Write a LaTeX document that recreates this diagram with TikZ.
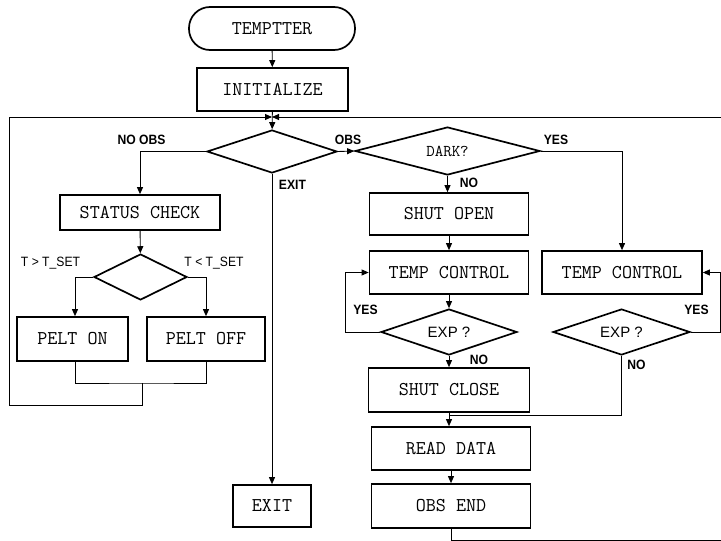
\documentclass[tikz,border=0pt]{standalone}
\usepackage{fontspec}
\newfontfamily\lblfont[FakeStretch=0.9]{Liberation Sans}
\newfontfamily\qfont{Liberation Sans}
\usetikzlibrary{shapes.geometric,arrows.meta}
\begin{document}
\begin{tikzpicture}[x=1pt,y=-1pt,
  line/.style={line width=0.9pt},
  arr/.style={line, -{Triangle[length=7pt,width=6pt]}},
  box/.style={draw, line width=1.7pt, rectangle, inner sep=0pt,
    font=\fontsize{19.5}{20}\selectfont\ttfamily},
  term/.style={box, rounded corners=21pt},
  dec/.style={draw, line width=1.7pt, diamond, aspect=3, inner sep=0pt},
  lbl/.style={font=\fontsize{13.5}{14}\selectfont\lblfont\bfseries, inner sep=0pt},
  lblr/.style={font=\fontsize{13.5}{14}\selectfont\lblfont, inner sep=0pt}]
\useasboundingbox (0,0) rectangle (721,541);

% left branch and main column
\node[term, minimum width=166, minimum height=43] (start) at (272,28.5) {TEMPTTER};
\node[box, minimum width=151, minimum height=43] (init) at (272.5,89.5) {INITIALIZE};
\node[dec, minimum width=130, minimum height=43] (d1) at (272,151.5) {};
\node[box, minimum width=160, minimum height=35] (status) at (140,212.5) {STATUS CHECK};
\node[dec, minimum width=93, minimum height=46] (dt) at (140.5,277) {};
\node[box, minimum width=111, minimum height=44] (pon) at (72.5,339) {PELT ON};
\node[box, minimum width=118, minimum height=44] (poff) at (206,339) {PELT OFF};
\node[box, minimum width=78, minimum height=42] (exitb) at (272,506) {EXIT};

% observation branch
\node[dec, minimum width=185, minimum height=48,
  font=\fontsize{16.5}{17}\selectfont\ttfamily] (dark) at (447.5,151) {DARK?};
\node[box, minimum width=159, minimum height=42] (sopen) at (449,214) {SHUT OPEN};
\node[box, minimum width=159, minimum height=43] (tcl) at (449,272.5) {TEMP CONTROL};
\node[dec, minimum width=136, minimum height=46,
  font=\fontsize{15}{16}\selectfont\qfont] (expl) at (449,332) {EXP ?};
\node[box, minimum width=161, minimum height=44] (sclose) at (449,390) {SHUT CLOSE};
\node[box, minimum width=159, minimum height=43] (rdata) at (451,448.5) {READ DATA};
\node[box, minimum width=159, minimum height=44] (oend) at (451,506) {OBS END};
\node[box, minimum width=160, minimum height=43] (tcr) at (622,272.5) {TEMP CONTROL};
\node[dec, minimum width=137, minimum height=46,
  font=\fontsize{15}{16}\selectfont\qfont] (expr) at (621.5,332) {EXP ?};

% junction points
\coordinate (J) at (272,117);
\coordinate (mp) at (142,383);
\coordinate (k) at (449,415);

% connectors
\draw[arr] (start) -- (init);
\draw[arr] (init) -- (d1);
\draw[arr] (d1.west) -| (status.north);
\draw[arr] (status) -- (dt);
\draw[arr] (dt.west) -| (pon.north -| 75,0);
\draw[arr] (dt.east) -| (poff.north -| 206,0);
\draw[line] (pon.south -| 75,0) |- (mp) -| (poff.south);
\draw[arr] (mp) -- (142,405) -| (9,117) -- (J);
\draw[arr] (d1.south) -- (exitb.north);
\draw[arr] (d1.east) -- (dark.west);
\draw[arr] (dark.east) -| (tcr.north);
\draw[arr] (dark.south) -- (sopen.north -| dark.south);
\draw[arr] (sopen) -- (tcl);
\draw[arr] (tcl) -- (expl);
\draw[arr] (expl.west) -- ++(-35,0) |- (tcl.west);
\draw[arr] (expr.east) -- ++(30,0) |- (tcr.east);
\draw[arr] (expl) -- (sclose);
\draw[line] (expr.south) |- (k);
\draw[arr] (sclose.south) -- (rdata.north -| sclose.south);
\draw[arr] (rdata) -- (oend);
\draw[arr] (oend.south) -- (451,540) -| (727,117) -- (J);

% branch labels
\node[lbl] (lnoobs) at (141.5,140) {NO OBS};
\node[lbl] (lobs) at (348,140) {OBS};
\node[lbl] (lexit) at (292.5,185) {EXIT};
\node[lbl] (lyes) at (556,140) {YES};
\node[lbl] (lno) at (469,183) {NO};
\node[lblr] (lgt) at (50.5,263) {T > T\_SET};
\node[lblr] (llt) at (214,263) {T < T\_SET};
\node[lbl] (lyesl) at (365.5,310) {YES};
\node[lbl] (lyesr) at (696.5,310) {YES};
\node[lbl] (lnol) at (479,360) {NO};
\node[lbl] (lnor) at (636.5,365) {NO};
\end{tikzpicture}
\end{document}
